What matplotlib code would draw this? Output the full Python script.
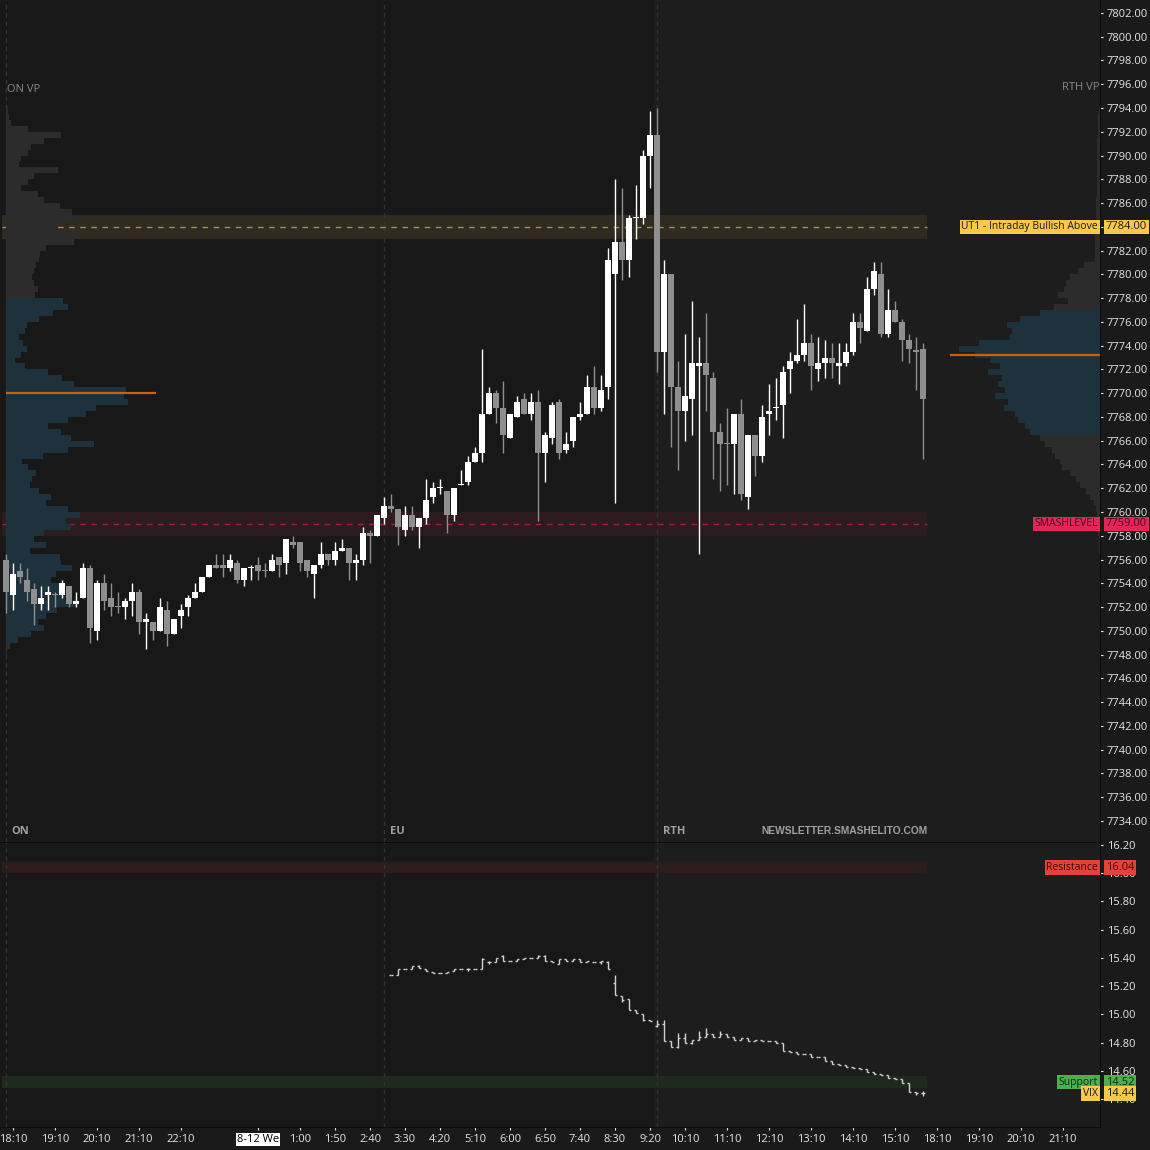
import numpy as np
import matplotlib
matplotlib.use('Agg')
import matplotlib.pyplot as plt
from matplotlib.transforms import blended_transform_factory

plt.rcParams['font.family'] = ['Open Sans', 'DejaVu Sans']

# ES 10-minute bars, bar 0 = 18:00 (overnight session start)
es_open = [7756.0, 7753.0, 7755.0, 7754.25, 7753.5, 7752.25, 7753.0, 7753.0, 7753.0, 7753.75,
           7752.25, 7752.75, 7755.25, 7750.0, 7754.0, 7752.75, 7752.0, 7752.0, 7752.5, 7753.25,
           7750.75, 7750.75, 7750.0, 7751.75, 7749.75, 7751.25, 7752.0, 7752.75, 7753.25, 7754.5,
           7755.5, 7755.5, 7755.25, 7755.75, 7754.25, 7755.25, 7755.5, 7755.0, 7755.0, 7756.25,
           7755.75, 7757.5, 7757.5, 7756.0, 7754.75, 7755.5, 7756.5, 7756.0, 7756.75, 7757.0,
           7755.75, 7756.0, 7758.25, 7758.0, 7759.5, 7760.5, 7760.25, 7758.5, 7759.75, 7758.75,
           7759.5, 7761.25, 7762.0, 7761.75, 7759.75, 7762.25, 7762.5, 7764.25, 7765.0, 7768.25,
           7770.0, 7768.75, 7766.25, 7768.0, 7769.5, 7768.25, 7769.25, 7765.0, 7766.25, 7769.25,
           7765.25, 7766.0, 7768.0, 7768.25, 7770.5, 7768.75, 7770.5, 7780.0, 7782.75, 7781.25,
           7784.75, 7784.75, 7790.0, 7791.75, 7773.5, 7780.0, 7770.5, 7768.5, 7769.5, 7772.25,
           7772.5, 7771.25, 7766.75, 7765.75, 7765.75, 7768.25, 7761.25, 7766.5, 7764.75, 7768.25,
           7768.75, 7769.0, 7772.0, 7772.75, 7773.25, 7774.25, 7772.0, 7772.5, 7773.0, 7772.25,
           7772.5, 7773.5, 7776.0, 7775.25, 7778.75, 7780.0, 7775.0, 7777.0, 7776.0, 7774.5,
           7773.5, 7773.75]
es_high = [7756.5, 7755.75, 7755.75, 7755.25, 7754.0, 7753.75, 7753.75, 7753.25, 7754.25, 7753.75,
           7753.25, 7755.75, 7755.5, 7754.25, 7754.75, 7754.0, 7753.25, 7752.75, 7754.0, 7753.5,
           7751.5, 7750.75, 7752.75, 7752.5, 7751.0, 7752.25, 7753.0, 7754.0, 7754.5, 7755.5,
           7756.5, 7756.5, 7756.5, 7756.0, 7755.25, 7755.5, 7756.25, 7755.75, 7756.5, 7756.25,
           7757.75, 7758.0, 7757.5, 7756.0, 7755.5, 7757.5, 7756.5, 7757.5, 7757.75, 7757.0,
           7756.5, 7758.75, 7758.5, 7759.75, 7761.25, 7761.5, 7760.25, 7760.5, 7760.5, 7759.5,
           7762.75, 7762.5, 7762.75, 7761.75, 7762.0, 7763.5, 7764.75, 7765.5, 7773.75, 7770.5,
           7770.25, 7771.0, 7768.25, 7769.75, 7770.0, 7770.0, 7770.25, 7766.75, 7769.25, 7769.5,
           7766.75, 7768.0, 7769.25, 7771.5, 7772.25, 7771.5, 7782.25, 7788.0, 7787.25, 7785.0,
           7787.5, 7790.5, 7793.75, 7794.0, 7781.25, 7780.0, 7772.75, 7775.0, 7777.75, 7774.75,
           7776.75, 7771.75, 7767.5, 7768.75, 7768.25, 7769.5, 7766.5, 7766.5, 7769.0, 7770.75,
           7771.25, 7772.25, 7773.5, 7776.25, 7777.5, 7775.0, 7774.75, 7774.5, 7774.25, 7774.25,
           7774.25, 7776.75, 7776.75, 7779.75, 7781.0, 7781.0, 7778.75, 7777.75, 7776.25, 7775.0,
           7774.75, 7774.25]
es_low = [7751.5, 7751.75, 7754.0, 7752.5, 7750.5, 7751.75, 7751.75, 7752.0, 7752.75, 7752.0,
          7752.0, 7752.75, 7749.0, 7749.25, 7751.75, 7751.25, 7751.5, 7751.0, 7751.25, 7749.75,
          7748.5, 7749.25, 7750.0, 7748.75, 7749.75, 7750.25, 7751.25, 7752.75, 7753.25, 7754.5,
          7755.25, 7754.5, 7755.0, 7754.0, 7753.75, 7754.25, 7754.25, 7754.5, 7755.0, 7754.5,
          7754.75, 7757.0, 7755.0, 7754.5, 7752.75, 7755.25, 7755.5, 7755.5, 7756.75, 7754.25,
          7754.25, 7755.5, 7755.75, 7758.0, 7759.0, 7760.0, 7757.25, 7758.0, 7758.5, 7757.0,
          7759.0, 7760.75, 7761.5, 7758.25, 7759.25, 7762.25, 7762.25, 7764.25, 7764.25, 7768.25,
          7767.5, 7765.0, 7766.25, 7768.0, 7768.25, 7767.75, 7759.25, 7762.5, 7765.75, 7764.5,
          7765.0, 7765.5, 7767.75, 7768.25, 7768.25, 7768.5, 7769.5, 7760.75, 7779.5, 7779.75,
          7783.0, 7784.25, 7787.25, 7771.75, 7768.25, 7765.5, 7763.5, 7766.0, 7766.5, 7756.5,
          7768.5, 7762.75, 7761.75, 7762.25, 7761.5, 7761.0, 7760.25, 7763.0, 7764.25, 7766.5,
          7767.75, 7766.25, 7770.0, 7772.5, 7772.75, 7770.25, 7771.0, 7771.25, 7771.25, 7770.75,
          7772.25, 7773.25, 7774.25, 7775.25, 7778.25, 7774.75, 7774.75, 7776.0, 7772.75, 7772.5,
          7770.25, 7764.5]
es_close = [7753.25, 7754.75, 7754.5, 7753.25, 7752.25, 7752.75, 7753.25, 7753.0, 7754.0, 7752.25,
            7752.5, 7755.25, 7750.25, 7754.0, 7752.5, 7752.0, 7752.0, 7752.5, 7753.25, 7750.75,
            7751.0, 7750.0, 7752.0, 7749.75, 7751.0, 7751.75, 7752.75, 7753.25, 7754.5, 7755.5,
            7755.25, 7755.25, 7756.0, 7754.25, 7755.25, 7755.25, 7755.0, 7755.0, 7756.0, 7755.5,
            7757.75, 7757.25, 7755.75, 7755.0, 7755.5, 7756.5, 7756.0, 7756.75, 7757.0, 7755.75,
            7756.0, 7758.25, 7758.0, 7759.75, 7760.5, 7760.25, 7758.75, 7759.75, 7758.75, 7759.5,
            7761.0, 7762.0, 7762.0, 7759.75, 7762.0, 7762.25, 7764.25, 7765.0, 7768.25, 7770.0,
            7768.75, 7766.5, 7768.25, 7769.25, 7768.25, 7769.25, 7765.0, 7766.5, 7769.0, 7765.0,
            7765.75, 7768.0, 7768.25, 7770.5, 7768.75, 7770.25, 7781.25, 7782.75, 7781.25, 7784.75,
            7784.75, 7790.0, 7791.75, 7773.5, 7780.0, 7770.5, 7768.5, 7769.75, 7772.5, 7772.5,
            7771.5, 7766.75, 7765.75, 7765.75, 7768.25, 7761.5, 7766.5, 7764.75, 7768.0, 7768.5,
            7768.75, 7771.75, 7772.75, 7773.25, 7774.25, 7772.25, 7772.5, 7773.0, 7772.5, 7772.5,
            7773.5, 7776.0, 7775.5, 7778.75, 7780.25, 7775.0, 7777.0, 7776.0, 7774.5, 7773.75,
            7773.5, 7769.5]
doji_down = [7, 16, 37, 103, 130]

# VIX 10-minute bars, first bar at 3:10
vix_first = 55
vix_open = [15.28, 15.28, 15.32, 15.32, 15.34, 15.32, 15.30, 15.29, 15.29, 15.31,
            15.32, 15.32, 15.32, 15.32, 15.37, 15.37, 15.41, 15.38, 15.38, 15.39,
            15.40, 15.40, 15.41, 15.38, 15.36, 15.39, 15.38, 15.39, 15.37, 15.37,
            15.37, 15.37, 15.22, 15.13, 15.11, 15.03, 15.00, 14.96, 14.92, 14.93,
            14.81, 14.77, 14.83, 14.80, 14.82, 14.84, 14.86, 14.84, 14.86, 14.84,
            14.82, 14.83, 14.81, 14.82, 14.81, 14.81, 14.80, 14.74, 14.73, 14.72,
            14.72, 14.70, 14.70, 14.67, 14.65, 14.64, 14.63, 14.62, 14.61, 14.59,
            14.58, 14.57, 14.55, 14.54, 14.51, 14.45, 14.44]
vix_high = [15.28, 15.32, 15.32, 15.34, 15.35, 15.32, 15.30, 15.29, 15.30, 15.32,
            15.32, 15.33, 15.32, 15.40, 15.38, 15.40, 15.42, 15.38, 15.39, 15.40,
            15.40, 15.42, 15.42, 15.38, 15.39, 15.39, 15.39, 15.39, 15.38, 15.37,
            15.38, 15.38, 15.28, 15.13, 15.11, 15.03, 15.00, 14.96, 14.96, 14.96,
            14.81, 14.87, 14.87, 14.82, 14.88, 14.90, 14.86, 14.88, 14.86, 14.84,
            14.83, 14.83, 14.82, 14.82, 14.81, 14.81, 14.80, 14.74, 14.73, 14.72,
            14.72, 14.70, 14.70, 14.67, 14.65, 14.64, 14.63, 14.62, 14.61, 14.59,
            14.58, 14.57, 14.55, 14.54, 14.51, 14.45, 14.46]
vix_low = [15.28, 15.28, 15.32, 15.32, 15.33, 15.31, 15.29, 15.29, 15.29, 15.31,
           15.32, 15.31, 15.32, 15.32, 15.36, 15.37, 15.38, 15.38, 15.38, 15.39,
           15.40, 15.40, 15.38, 15.37, 15.36, 15.38, 15.38, 15.37, 15.37, 15.37,
           15.36, 15.32, 15.14, 15.09, 15.03, 15.01, 14.95, 14.95, 14.91, 14.81,
           14.77, 14.76, 14.80, 14.79, 14.82, 14.84, 14.84, 14.84, 14.84, 14.82,
           14.82, 14.81, 14.81, 14.81, 14.81, 14.80, 14.74, 14.73, 14.72, 14.72,
           14.70, 14.70, 14.67, 14.65, 14.64, 14.63, 14.62, 14.61, 14.59, 14.58,
           14.57, 14.55, 14.54, 14.51, 14.45, 14.43, 14.42]
vix_close = [15.28, 15.32, 15.32, 15.34, 15.33, 15.31, 15.29, 15.29, 15.30, 15.32,
             15.32, 15.32, 15.32, 15.39, 15.37, 15.40, 15.38, 15.38, 15.39, 15.40,
             15.40, 15.41, 15.38, 15.37, 15.39, 15.38, 15.39, 15.37, 15.38, 15.37,
             15.38, 15.32, 15.14, 15.10, 15.03, 15.01, 14.96, 14.95, 14.93, 14.81,
             14.77, 14.83, 14.80, 14.82, 14.84, 14.86, 14.84, 14.86, 14.84, 14.82,
             14.83, 14.81, 14.82, 14.81, 14.81, 14.80, 14.74, 14.73, 14.72, 14.72,
             14.70, 14.70, 14.67, 14.65, 14.64, 14.63, 14.62, 14.61, 14.59, 14.58,
             14.57, 14.55, 14.54, 14.51, 14.45, 14.44, 14.44]

# volume profiles, rows of 0.5 pt listed from the top price down
on_vp_top = 7794.0
on_vp_vol = [2, 3, 5, 22, 55, 38, 25, 22, 15, 13, 52, 28, 22, 15, 32, 38, 54, 66, 71, 52,
             48, 72, 68, 40, 34, 33, 30, 28, 26, 28, 32, 29, 57, 62, 47, 33, 21, 19, 13, 17,
             21, 15, 9, 19, 42, 56, 68, 120, 118, 122, 90, 80, 62, 42, 55, 65, 88, 62, 37, 16,
             22, 30, 26, 24, 33, 45, 40, 62, 74, 60, 65, 38, 28, 40, 24, 54, 55, 66, 50, 45,
             53, 56, 59, 70, 51, 40, 32, 38, 25, 12, 4, 1]
on_va = (7749.0, 7778.0)
on_poc = 7770.0
rth_vp_top = 7794.0
rth_vp_vol = [1, 2, 2, 2, 2, 3, 3, 3, 3, 3, 3, 3, 3, 3, 3, 4, 4, 4, 4, 4,
              5, 5, 5, 5, 5, 5, 16, 22, 30, 34, 36, 42, 32, 46, 60, 80, 93, 88, 90, 121,
              141, 125, 110, 100, 112, 98, 102, 95, 105, 92, 96, 85, 82, 75, 70, 60, 55, 48, 45, 40,
              38, 30, 24, 20, 14, 10, 6, 4, 3, 2, 2, 2, 1, 1, 1]
rth_va = (7766.5, 7777.0)
rth_poc = 7773.25

# levels
ut1 = 7784.0
smash = 7759.0
vix_res = 16.04
vix_sup = 14.52

sessions = [(0, 'ON'), (54, 'EU'), (93, 'RTH')]
tick_idx = [1, 7, 13, 19, 25, 36, 42, 47, 52, 57, 62, 67, 72, 77, 82, 87, 92, 97, 103, 109,
            115, 121, 127, 133, 139, 145, 151]
tick_lbl = ['18:10', '19:10', '20:10', '21:10', '22:10', '8-12 We', '1:00', '1:50', '2:40', '3:30',
            '4:20', '5:10', '6:00', '6:50', '7:40', '8:30', '9:20', '10:10', '11:10', '12:10',
            '13:10', '14:10', '15:10', '18:10', '19:10', '20:10', '21:10']

BG = '#181818'
BG_RTH = '#1d1d1d'
W = H = 1150.0


def rect(x0, y0, x1, y1):
    return [x0 / W, 1 - y1 / H, (x1 - x0) / W, (y1 - y0) / H]


fig = plt.figure(figsize=(11.5, 11.5), dpi=100, facecolor='#1a1a1a')
xlim = (-6 / 7, 1094 / 7)
n = len(es_open)
last = n - 1

# price panel background, bands, axis
ax_p = fig.add_axes(rect(0, 0, 1100, 842))
ax_p.set_facecolor(BG)
ax_p.set_xlim(*xlim)
ax_p.set_ylim(7732.23, 7803.09)
ax_p.axvspan(92.5, xlim[1], color=BG_RTH, lw=0, zorder=0)
ax_p.fill_between([-0.5, last + 0.5], ut1 - 1, ut1 + 1, color='#2f2b20', lw=0, zorder=1)
ax_p.fill_between([-0.5, last + 0.5], smash - 1, smash + 1, color='#2c1c20', lw=0, zorder=1)
ax_p.hlines(ut1, -0.5, last + 0.5, color='#a0915a', lw=1, linestyles=(0, (4, 4)), zorder=2)
ax_p.hlines(smash, -0.5, last + 0.5, color='#a02346', lw=1, linestyles=(0, (4, 4)), zorder=2)
for s, _ in sessions:
    ax_p.axvline(s, color='#333333', lw=1, ls=(0, (3, 3)), zorder=1)
ax_p.yaxis.tick_right()
ax_p.set_yticks(np.arange(7734, 7803, 2))
ax_p.set_yticklabels(['%.2f' % v for v in np.arange(7734, 7803, 2)])
ax_p.tick_params(axis='y', colors='#e6e6e6', labelsize=8, length=2, pad=3)
ax_p.tick_params(axis='x', labelbottom=False, bottom=False)
for sp in ['top', 'left', 'bottom']:
    ax_p.spines[sp].set_visible(False)
ax_p.spines['right'].set_color('#0c0c0c')

# overnight volume profile
ax_on = fig.add_axes(rect(0, 0, 1100, 842), sharey=ax_p)
ax_on.set_xlim(-6, 1094)
ax_on.patch.set_alpha(0)
ax_on.axis('off')
on_rows = on_vp_top - 0.5 * np.arange(len(on_vp_vol))
on_col = ['#1e323e' if (r - 0.5 >= on_va[0] and r <= on_va[1]) else '#2c2c2c' for r in on_rows]
ax_on.barh(on_rows - 0.5, on_vp_vol, height=0.5, align='edge', color=on_col, lw=0)
ax_on.hlines(on_poc, 0, 150, color='#c8620f', lw=1.6)

# RTH volume profile (grows leftward from right edge)
ax_rth = fig.add_axes(rect(0, 0, 1100, 842), sharey=ax_p)
ax_rth.set_xlim(1100, 0)
ax_rth.patch.set_alpha(0)
ax_rth.axis('off')
rth_rows = rth_vp_top - 0.5 * np.arange(len(rth_vp_vol))
rth_col = ['#1e323e' if (r - 0.5 >= rth_va[0] and r <= rth_va[1]) else '#2c2c2c' for r in rth_rows]
ax_rth.barh(rth_rows - 0.5, rth_vp_vol, height=0.5, align='edge', color=rth_col, lw=0)
ax_rth.hlines(rth_poc, 0, 150, color='#c8620f', lw=1.6)

# candles
ax_c = fig.add_axes(rect(0, 0, 1100, 842), sharex=ax_p, sharey=ax_p)
ax_c.patch.set_alpha(0)
ax_c.axis('off')
x = np.arange(n)
o = np.array(es_open)
c = np.array(es_close)
up = (c > o) | ((c == o) & ~np.isin(x, doji_down))
col = np.where(up, '#ffffff', '#8f8f8f')
ax_c.vlines(x, es_low, es_high, colors=col, lw=1.0)
ax_c.bar(x, np.maximum(np.abs(c - o), 0.1), bottom=np.minimum(o, c), width=0.72, color=col, lw=0)

# VIX panel
ax_v = fig.add_axes(rect(0, 842, 1100, 1127), sharex=ax_p)
ax_v.set_facecolor(BG)
ax_v.set_ylim(14.2014, 16.2213)
ax_v.axvspan(92.5, xlim[1], color=BG_RTH, lw=0, zorder=0)
ax_v.fill_between([-0.5, last + 0.5], vix_res - 0.04, vix_res + 0.04, color='#2e1c1c', lw=0, zorder=1)
ax_v.fill_between([-0.5, last + 0.5], vix_sup - 0.04, vix_sup + 0.04, color='#1e2a1e', lw=0, zorder=1)
for s, _ in sessions:
    ax_v.axvline(s, color='#333333', lw=1, ls=(0, (3, 3)), zorder=1)
vx = np.arange(vix_first, vix_first + len(vix_open))
ax_v.vlines(vx, vix_low, vix_high, colors='#d2d2d2', lw=1.0, zorder=3)
ax_v.hlines(vix_open, vx - 0.35, vx, colors='#d2d2d2', lw=1.0, zorder=3)
ax_v.hlines(vix_close, vx, vx + 0.35, colors='#d2d2d2', lw=1.0, zorder=3)
ax_v.yaxis.tick_right()
vt = np.arange(14.4, 16.21, 0.2)
ax_v.set_yticks(vt)
ax_v.set_yticklabels(['%.2f' % v for v in vt])
ax_v.tick_params(axis='y', colors='#e6e6e6', labelsize=8, length=2, pad=3)
ax_v.set_xticks(tick_idx)
ax_v.set_xticklabels(tick_lbl)
ax_v.tick_params(axis='x', colors='#e6e6e6', labelsize=8, length=2, pad=3)
for t in ax_v.get_xticklabels():
    if t.get_text() == '8-12 We':
        t.set_color('#000000')
        t.set_bbox(dict(facecolor='white', edgecolor='none', pad=1))
ax_v.spines['left'].set_visible(False)
for sp in ['top', 'right', 'bottom']:
    ax_v.spines[sp].set_color('#0c0c0c')

# level tags on the right
tp = blended_transform_factory(fig.transFigure, ax_p.transData)
tv = blended_transform_factory(fig.transFigure, ax_v.transData)


def tag(tr, y, name, color, txtcol, zax):
    zax.text(1098 / W, y, name, transform=tr, ha='right', va='center', fontsize=7.5,
             color=txtcol, clip_on=False, zorder=10,
             bbox=dict(facecolor=color, edgecolor='none', pad=1.2))


def price_tag(tr, y, fmt, color, txtcol, zax):
    zax.text(1106 / W, y, fmt % y, transform=tr, ha='left', va='center', fontsize=8,
             color=txtcol, clip_on=False, zorder=10,
             bbox=dict(facecolor=color, edgecolor='none', pad=1.2))


tag(tp, ut1, 'UT1 - Intraday Bullish Above', '#f7c948', '#1a1a1a', ax_c)
price_tag(tp, ut1, '%.2f', '#f7c948', '#1a1a1a', ax_c)
tag(tp, smash, 'SMASHLEVEL', '#e8235a', '#3a0a14', ax_c)
price_tag(tp, smash, '%.2f', '#e8235a', '#3a0a14', ax_c)
tag(tv, vix_res, 'Resistance', '#e8413a', '#3a0a08', ax_v)
price_tag(tv, vix_res, '%.2f', '#e8413a', '#3a0a08', ax_v)
tag(tv, vix_sup, 'Support', '#4caf50', '#0e2a10', ax_v)
price_tag(tv, vix_sup, '%.2f', '#4caf50', '#0e2a10', ax_v)
tag(tv, vix_close[-1], 'VIX', '#f7c948', '#1a1a1a', ax_v)
price_tag(tv, vix_close[-1], '%.2f', '#f7c948', '#1a1a1a', ax_v)

# text labels
fig.text(7 / W, 1 - 89 / H, 'ON VP', color='#8a8a8a', fontsize=8, va='center')
fig.text(1099 / W, 1 - 87 / H, 'RTH VP', color='#8a8a8a', fontsize=8, va='center', ha='right')
for s, name in sessions:
    ax_c.text(s + 0.8, 7733.15, name, color='#a0a0a0', fontsize=8, fontweight='bold', va='center')
fig.text(928 / W, 1 - 831 / H, 'NEWSLETTER.SMASHELITO.COM', color='#a0a0a0', fontsize=7.4,
         fontweight='bold', va='center', ha='right', family=['Liberation Sans', 'DejaVu Sans'])

fig.savefig('out.png', dpi=100, facecolor=fig.get_facecolor())
